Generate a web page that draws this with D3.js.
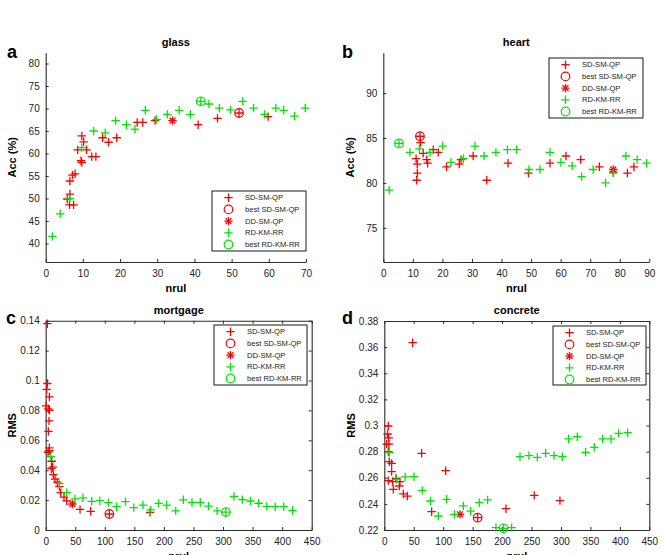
<!DOCTYPE html>
<html>
<head>
<meta charset="utf-8">
<script src="https://cdn.jsdelivr.net/npm/d3@7"></script>
<style>
  body { margin: 0; background: #fff; }
  svg { font-family: "Liberation Sans", Arial, Helvetica, sans-serif; }
</style>
</head>
<body>
<svg id="chart" width="664" height="555"></svg>
<script>
// legend entries, same for every panel
const legendLabels = ["SD-SM-QP", "best SD-SM-QP", "DD-SM-QP", "RD-KM-RR", "best RD-KM-RR"];

// glass: [nrul, Acc %]
const glassSD = [[6.5,53.9],[7.2,55.2],[7.9,55.5],[6.5,51.0],[5.8,49.9],[6.4,48.6],[7.5,48.6],
  [9.5,58.4],[9.7,58.0],[8.6,60.8],[9.7,63.9],[10.2,62.6],[11.0,60.8],[12.4,59.3],[13.5,59.3],
  [15.3,63.5],[16.9,62.5],[19.1,63.5],[24.6,66.9],[26.1,66.9],[29.4,67.3],[41.0,66.4],[46.2,67.8],
  [52.0,69.0],[59.8,68.2]];
const glassSDBest = [52.0, 69.0];
const glassDD = [34.1, 67.3];
const glassRD = [[1.8,41.6],[3.9,46.6],[6.5,50.0],[9.7,61.3],[12.9,65.0],[16.0,64.6],[18.8,67.3],
  [21.7,66.4],[24.0,65.4],[26.8,69.6],[29.8,67.6],[32.7,68.7],[35.9,69.6],[38.9,68.7],[41.7,71.6],
  [43.9,71.0],[46.7,70.1],[49.7,69.7],[53.0,71.6],[55.9,70.1],[58.9,68.7],[61.9,70.1],[64.0,69.6],
  [66.9,68.3],[69.8,70.1]];
const glassRDBest = [41.7, 71.6];

// heart: [nrul, Acc %]
const heartSD = [[12.4,85.2],[12.6,84.5],[11.1,82.7],[11.5,82.1],[11.5,81.1],[11.3,80.3],[13.5,83.3],
  [14.7,82.6],[15.0,82.2],[16.9,83.7],[18.6,83.4],[21.4,81.8],[25.7,82.1],[26.3,82.6],[30.4,83.0],
  [35.0,80.3],[42.2,82.2],[49.1,81.1],[56.4,82.2],[61.8,83.0],[66.8,82.6],[73.1,81.8],[77.8,81.2],
  [82.6,81.1],[84.8,81.8]];
const heartSDBest = [12.4, 85.2];
const heartDD = [77.8, 81.5];
const heartRD = [[2.0,79.2],[5.3,84.4],[9.0,83.4],[12.2,83.8],[15.8,83.4],[20.1,84.1],[22.9,82.3],
  [27.1,82.7],[31.0,84.1],[34.1,83.0],[38.1,83.4],[42.0,83.7],[45.1,83.7],[49.3,81.5],[53.0,81.5],
  [56.4,83.4],[60.1,82.3],[63.9,81.9],[67.1,80.7],[71.0,81.5],[75.2,80.0],[77.8,81.1],[82.1,83.0],
  [85.9,82.6],[89.1,82.2]];
const heartRDBest = [5.3, 84.4];

// mortgage: [nrul, RMS]
const mortgageSD = [[2.8,0.138],[2.8,0.098],[1.7,0.094],[6.2,0.089],[0.6,0.083],[4.5,0.081],[6.2,0.080],
  [5.6,0.073],[4.5,0.066],[6.2,0.055],[6.2,0.053],[4.0,0.052],[10.2,0.046],[11.8,0.042],[9.5,0.041],
  [13.0,0.037],[15.8,0.034],[19.7,0.032],[23.1,0.029],[25.4,0.025],[31.0,0.022],[35.5,0.0195],
  [58.1,0.0138],[76.1,0.0125],[107.7,0.0107],[176.5,0.0118]];
const mortgageSDBest = [107.7, 0.0107];
const mortgageDD = [45.1, 0.0174];
const mortgageRD = [[8.5,0.049],[23.1,0.031],[35.5,0.025],[49.5,0.0208],[63.0,0.0215],[77.8,0.0192],
  [91.5,0.0196],[106.0,0.0183],[120.0,0.0156],[135.0,0.019],[149.0,0.015],[164.5,0.0167],[177.7,0.0134],
  [191.0,0.0178],[204.7,0.0167],[220.0,0.0128],[232.8,0.0202],[247.5,0.0184],[261.5,0.0184],
  [275.5,0.016],[290.0,0.0128],[304.8,0.012],[318.5,0.0224],[332.7,0.0203],[346.3,0.0194],
  [360.3,0.0179],[374.0,0.0158],[388.3,0.0156],[402.7,0.0156],[417.6,0.013]];
const mortgageRDBest = [304.8, 0.012];

// concrete: [nrul, RMS]
const concreteSD = [[48.1,0.3634],[6.8,0.2996],[5.5,0.2935],[7.5,0.2905],[4.0,0.2858],[8.0,0.2858],
  [6.8,0.280],[8.5,0.2723],[12.5,0.271],[12.5,0.2647],[6.8,0.2578],[14.2,0.257],[19.8,0.2595],
  [15.3,0.2511],[26.6,0.257],[25.5,0.2537],[32.3,0.2476],[39.1,0.246],[63.4,0.2787],[104.2,0.2654],
  [80.4,0.234],[158.5,0.2294],[206.6,0.2363],[254.7,0.2465],[298.3,0.2425]];
const concreteSDBest = [158.5, 0.2294];
const concreteDD = [128.5, 0.232];
const concreteRD = [[8.5,0.2795],[21.0,0.2588],[35.5,0.2606],[50.4,0.2608],[64.5,0.2503],[78.5,0.2422],
  [91.7,0.2307],[105.8,0.2435],[119.0,0.232],[134.2,0.2384],[146.6,0.2345],[161.3,0.2409],[175.5,0.243],
  [189.6,0.2218],[202.6,0.2213],[216.2,0.2218],[230.4,0.2761],[245.7,0.2769],[259.8,0.2756],
  [274.0,0.2787],[288.1,0.2769],[302.3,0.2761],[313.0,0.2897],[327.7,0.2914],[341.9,0.2795],
  [356.6,0.2833],[370.8,0.2897],[385.0,0.2897],[397.9,0.294],[413.2,0.2945]];
const concreteRDBest = [202.6, 0.2213];

const RED = "#ff0000";
const GREEN = "#00e600";
const AXIS_COLOR = "#2b2b2b";

const svg = d3.select("#chart");

const panels = [
  {letter: "a", title: "glass", ylabel: "Acc (%)", box: false,
   xr: [45.7, 306], yr: [262, 52.7], xd: [0, 70], yd: [35.9, 82.4],
   xticks: d3.range(0, 71, 10), yticks: d3.range(40, 81, 5),
   sd: glassSD, sdBest: glassSDBest, dd: glassDD, rd: glassRD, rdBest: glassRDBest,
   legend: [212, 191, 94, 60], letterXY: [7, 58]},
  {letter: "b", title: "heart", ylabel: "Acc (%)", box: false,
   xr: [383.3, 649.3], yr: [262, 52.7], xd: [0, 90], yd: [71.2, 94.5],
   xticks: d3.range(0, 91, 10), yticks: d3.range(75, 91, 5),
   sd: heartSD, sdBest: heartSDBest, dd: heartDD, rd: heartRD, rdBest: heartRDBest,
   legend: [549, 58, 94, 60], letterXY: [342, 58]},
  {letter: "c", title: "mortgage", ylabel: "RMS", box: true,
   xr: [45.7, 311.7], yr: [530, 320.7], xd: [0, 450], yd: [0, 0.14],
   xticks: d3.range(0, 451, 50), yticks: d3.range(0, 0.141, 0.02),
   sd: mortgageSD, sdBest: mortgageSDBest, dd: mortgageDD, rd: mortgageRD, rdBest: mortgageRDBest,
   legend: [214, 325, 93, 60], letterXY: [6, 324]},
  {letter: "d", title: "concrete", ylabel: "RMS", box: true,
   xr: [384.3, 649.3], yr: [530, 321], xd: [0, 450], yd: [0.22, 0.38],
   xticks: d3.range(0, 451, 50), yticks: d3.range(0.22, 0.381, 0.02),
   sd: concreteSD, sdBest: concreteSDBest, dd: concreteDD, rd: concreteRD, rdBest: concreteRDBest,
   legend: [553, 326, 93, 59], letterXY: [342, 324]}
];

function numFmt(d) {
  return String(+d.toFixed(2));
}

function drawMarker(g, type, color, x, y) {
  // matlab style markers: +, o, *
  const s = 4.2;
  if (type === "plus" || type === "star") {
    g.append("path")
      .attr("d", `M${x-s},${y}H${x+s}M${x},${y-s}V${y+s}`)
      .attr("stroke", color).attr("stroke-width", 1.3).attr("fill", "none");
  }
  if (type === "star") {
    const k = s * 0.7;
    g.append("path")
      .attr("d", `M${x-k},${y-k}L${x+k},${y+k}M${x-k},${y+k}L${x+k},${y-k}`)
      .attr("stroke", color).attr("stroke-width", 1.3).attr("fill", "none");
  }
  if (type === "circle") {
    g.append("circle")
      .attr("cx", x).attr("cy", y).attr("r", 4.3)
      .attr("stroke", color).attr("stroke-width", 1.2).attr("fill", "none");
  }
}

function styleAxis(g) {
  g.selectAll(".domain").attr("stroke", AXIS_COLOR).attr("stroke-width", 1.1);
  g.selectAll(".tick line").attr("stroke", AXIS_COLOR);
  g.selectAll(".tick text").attr("fill", "#222")
    .style("font-family", "'Liberation Sans', Arial, sans-serif")
    .style("font-size", "10px");
}

function drawPanel(p) {
  const x = d3.scaleLinear().domain(p.xd).range(p.xr);
  const y = d3.scaleLinear().domain(p.yd).range(p.yr);
  const g = svg.append("g");

  const xAxis = g.append("g")
    .attr("transform", `translate(0,${p.yr[0]})`)
    .call(d3.axisBottom(x).tickValues(p.xticks).tickFormat(numFmt)
      .tickSizeInner(-3).tickSizeOuter(0).tickPadding(8));
  styleAxis(xAxis);

  const yAxis = g.append("g")
    .attr("transform", `translate(${p.xr[0]},0)`)
    .call(d3.axisLeft(y).tickValues(p.yticks).tickFormat(numFmt)
      .tickSizeInner(-3).tickSizeOuter(0).tickPadding(6));
  styleAxis(yAxis);

  if (p.box) {
    const top = g.append("g")
      .attr("transform", `translate(0,${p.yr[1]})`)
      .call(d3.axisTop(x).tickValues(p.xticks).tickFormat("")
        .tickSizeInner(-3).tickSizeOuter(0));
    styleAxis(top);
    const right = g.append("g")
      .attr("transform", `translate(${p.xr[1]},0)`)
      .call(d3.axisRight(y).tickValues(p.yticks).tickFormat("")
        .tickSizeInner(-3).tickSizeOuter(0));
    styleAxis(right);
  }

  // series, drawn in legend order
  const marks = g.append("g");
  p.sd.forEach(d => drawMarker(marks, "plus", RED, x(d[0]), y(d[1])));
  drawMarker(marks, "circle", RED, x(p.sdBest[0]), y(p.sdBest[1]));
  drawMarker(marks, "star", RED, x(p.dd[0]), y(p.dd[1]));
  p.rd.forEach(d => drawMarker(marks, "plus", GREEN, x(d[0]), y(d[1])));
  drawMarker(marks, "circle", GREEN, x(p.rdBest[0]), y(p.rdBest[1]));

  const cx = (p.xr[0] + p.xr[1]) / 2;
  const cy = (p.yr[0] + p.yr[1]) / 2;

  g.append("text")
    .text(p.title)
    .attr("x", cx).attr("y", p.yr[1] - 7)
    .attr("text-anchor", "middle")
    .style("font-weight", "bold").style("font-size", "11px");

  g.append("text")
    .text("nrul")
    .attr("x", cx).attr("y", p.yr[0] + 29.5)
    .attr("text-anchor", "middle")
    .style("font-weight", "bold").style("font-size", "11px");

  g.append("text")
    .text(p.ylabel)
    .attr("transform", `translate(${p.xr[0] - 33.5},${cy}) rotate(-90)`)
    .attr("text-anchor", "middle")
    .attr("dy", "0.35em")
    .style("font-weight", "bold").style("font-size", "11px");

  g.append("text")
    .text(p.letter)
    .attr("x", p.letterXY[0]).attr("y", p.letterXY[1])
    .style("font-weight", "bold").style("font-size", "18px");

  // legend
  const [lx, ly, lw, lh] = p.legend;
  const leg = g.append("g");
  leg.append("rect")
    .attr("x", lx).attr("y", ly).attr("width", lw).attr("height", lh)
    .attr("fill", "#fff").attr("stroke", "#000").attr("stroke-width", 0.9);
  const legTypes = [["plus", RED], ["circle", RED], ["star", RED], ["plus", GREEN], ["circle", GREEN]];
  legendLabels.forEach((lab, i) => {
    const ry = ly + 6.7 + i * 11.7;
    drawMarker(leg, legTypes[i][0], legTypes[i][1], lx + 16.5, ry);
    leg.append("text")
      .text(lab)
      .attr("x", lx + 33).attr("y", ry)
      .attr("dy", "0.35em")
      .attr("fill", "#222")
      .style("font-size", "7.6px");
  });
}

panels.forEach(drawPanel);
</script>
</body>
</html>
